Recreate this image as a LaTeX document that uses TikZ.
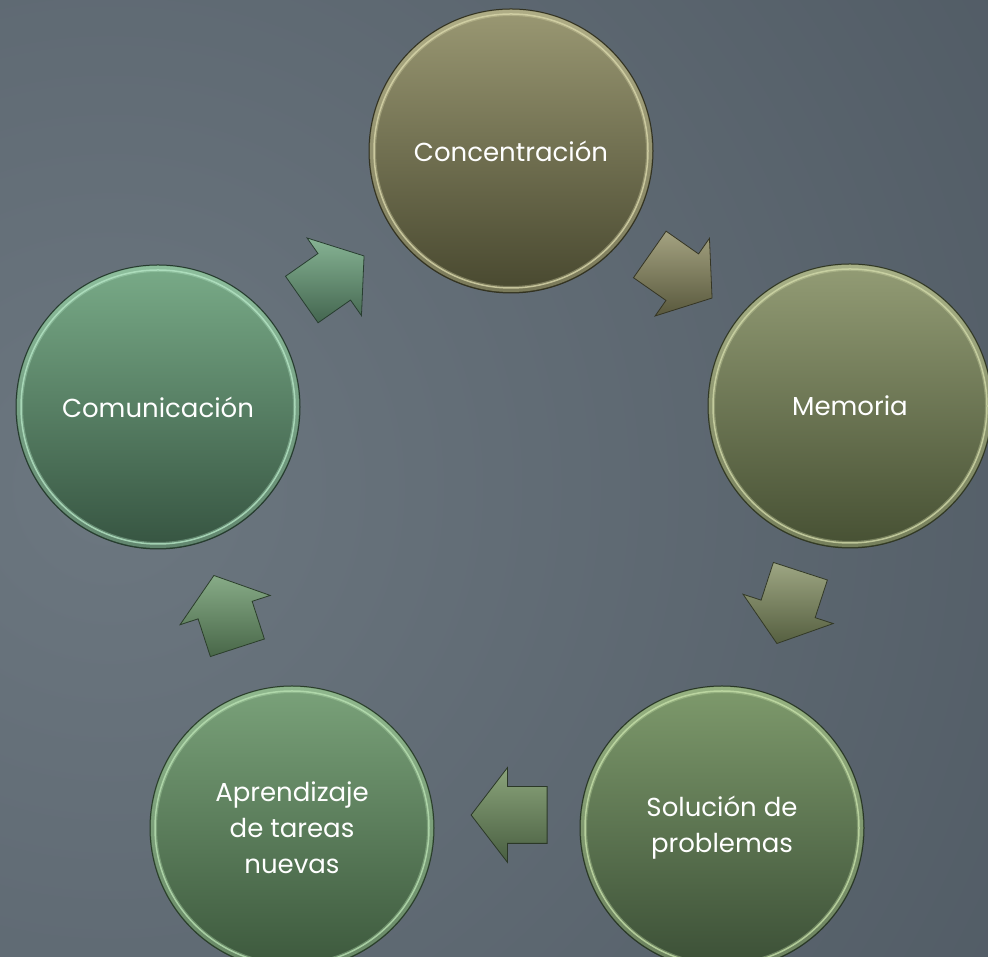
\documentclass[tikz,border=0pt]{standalone}
\usepackage{fontspec}
\setmainfont{Poppins}
\usetikzlibrary{shapes.arrows}

\definecolor{bgl}{HTML}{6C7780}
\definecolor{bgr}{HTML}{39434D}
\definecolor{concT}{HTML}{9A9873}
\definecolor{concB}{HTML}{48482F}
\definecolor{concR}{HTML}{D8D6AA}
\definecolor{memT}{HTML}{939C75}
\definecolor{memB}{HTML}{465033}
\definecolor{memR}{HTML}{D0D8A8}
\definecolor{solT}{HTML}{7E9A6C}
\definecolor{solB}{HTML}{3B4F36}
\definecolor{solR}{HTML}{C4DEA8}
\definecolor{aprT}{HTML}{7AA27A}
\definecolor{aprB}{HTML}{3C583C}
\definecolor{aprR}{HTML}{B8E0B2}
\definecolor{comT}{HTML}{79AB88}
\definecolor{comB}{HTML}{365441}
\definecolor{comR}{HTML}{B4E4C4}

\begin{document}
\begin{tikzpicture}[x=1pt,y=1pt,
    bubble/.style n args={3}{circle, minimum size=284pt, inner sep=0pt,
        top color=#1, bottom color=#2, draw=#2!70!black, line width=1pt,
        path picture={
            \draw[#3, line width=6pt, opacity=0.35] (path picture bounding box.center) circle (138pt);
            \draw[#3, line width=1.5pt, opacity=0.8] (path picture bounding box.center) circle (137pt);},
        text=white, align=center, font=\fontsize{26}{36}\selectfont},
    flow/.style 2 args={single arrow, minimum height=76pt, minimum width=94pt,
        single arrow head extend=19pt, single arrow tip angle=105,
        inner xsep=0pt, inner ysep=28pt,
        top color=#1, bottom color=#2, draw=#2!60!black, line width=0.8pt}]

    \useasboundingbox (0,0) rectangle (988,957);
    \begin{scope}
        \clip (0,0) rectangle (988,957);
        \shade[inner color=bgl, outer color=bgr] (110,470) circle (2000);
    \end{scope}

    % circles
    \node[bubble={concT}{concB}{concR}] (conc) at (511,806) {Concentración};
    \node[bubble={memT}{memB}{memR}] (mem) at (850,551) {Memoria};
    \node[bubble={solT}{solB}{solR}] (sol) at (722,129) {Solución de\\problemas};
    \node[bubble={aprT}{aprB}{aprR}] (apr) at (292,129) {Aprendizaje\\de tareas\\nuevas};
    \node[bubble={comT}{comB}{comR}] (com) at (158,550) {Comunicación};

    % arrows
    \node[flow={comT!90!white}{comB!80!comT}, rotate=35] (a1) at (324,673) {};
    \node[flow={concT!90!white}{concB!80!concT}, rotate=-35] (a2) at (672,687) {};
    \node[flow={memT!90!white}{memB!80!memT}, rotate=-108] (a3) at (792,360) {};
    \node[flow={solT!90!white}{solB!80!solT}, rotate=180] (a4) at (520,142) {};
    \node[flow={aprT!90!white}{aprB!80!aprT}, rotate=108] (a5) at (229,335) {};
\end{tikzpicture}
\end{document}
